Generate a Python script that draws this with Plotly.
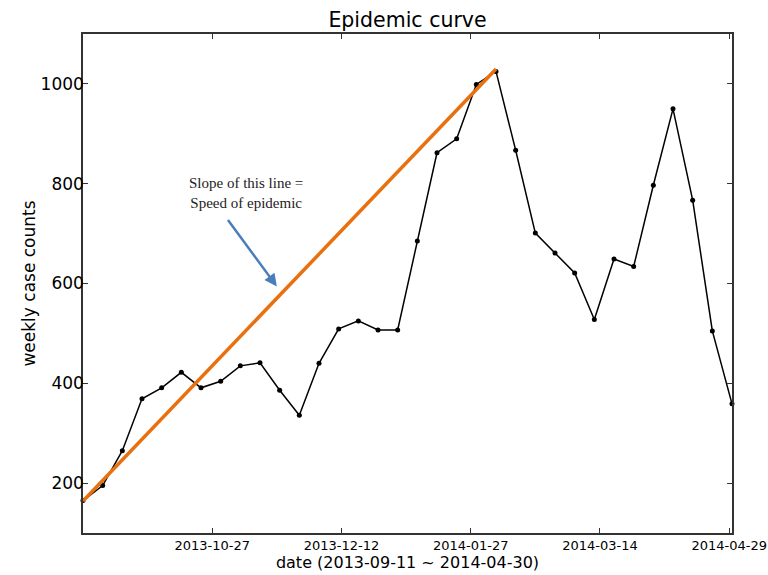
import plotly.graph_objects as go
import pandas as pd

start_date = "2013-09-11"
weekly_counts = [165, 195, 265, 369, 391, 422, 391, 404, 435, 441, 386, 336,
                 440, 509, 525, 507, 507, 685, 862, 890, 999, 1025, 867, 701,
                 661, 621, 528, 649, 634, 797, 950, 767, 505, 359]
dates = pd.date_range(start_date, periods=len(weekly_counts), freq="7D")

slope_dates = ["2013-09-11", "2014-02-05"]
slope_values = [164, 1030]

tick_dates = ["2013-10-27", "2013-12-12", "2014-01-27", "2014-03-14", "2014-04-29"]
y_ticks = [200, 400, 600, 800, 1000]

fig = go.Figure()
fig.add_trace(go.Scatter(x=dates, y=weekly_counts, mode="lines+markers",
                         line=dict(color="black", width=1.5),
                         marker=dict(color="black", size=5),
                         cliponaxis=False, showlegend=False))
fig.add_trace(go.Scatter(x=slope_dates, y=slope_values, mode="lines",
                         line=dict(color="#E8700F", width=3.5),
                         showlegend=False))

fig.add_annotation(x="2013-11-08", y=782, xref="x", yref="y",
                   text="Slope of this line =<br>Speed of epidemic",
                   showarrow=False,
                   font=dict(family="Liberation Serif", size=15, color="#222"))
fig.add_annotation(x="2013-11-19", y=594, xref="x", yref="y",
                   ax=-50, ay=-68, text="", showarrow=True,
                   arrowhead=2, arrowsize=1.0, arrowwidth=2.5,
                   arrowcolor="#4A7EBB")

axis_common = dict(showline=True, linecolor="#333", linewidth=1.5, mirror="ticks",
                   ticks="inside", ticklen=5, tickcolor="#333", showgrid=False,
                   zeroline=False, automargin=False)

fig.update_layout(
    width=768, height=575,
    margin=dict(l=83, r=36, t=34, b=42),
    plot_bgcolor="white", paper_bgcolor="white",
    font=dict(family="DejaVu Sans", color="black"),
    title=dict(text="Epidemic curve", x=0.5, xanchor="center", xref="paper",
               y=0.965, yanchor="middle", font=dict(size=20.5)),
    xaxis=dict(type="date", range=["2013-09-11", "2014-04-30"],
               tickvals=tick_dates, ticktext=tick_dates,
               tickfont=dict(size=13),
               title=dict(text="date (2013-09-11 ~ 2014-04-30)", font=dict(size=16), standoff=2),
               **axis_common),
    yaxis=dict(range=[100, 1100], tickvals=y_ticks,
               tickfont=dict(size=17), ticklabelstandoff=-6,
               title=dict(text="weekly case counts", font=dict(size=17), standoff=1),
               **axis_common),
)

fig.write_html("out.html", config={"displayModeBar": False},
               post_script="document.body.style.margin='0';")
